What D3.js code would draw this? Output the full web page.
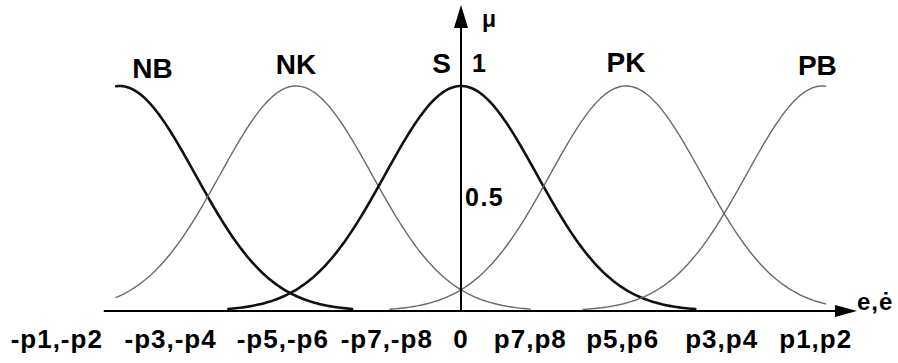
<!DOCTYPE html>
<html>
<head>
<meta charset="utf-8">
<script src="https://cdn.jsdelivr.net/npm/d3@7"></script>
<style>
  body { margin: 0; background: #fff; }
  text { font-family: "Liberation Sans", Arial, sans-serif; font-weight: bold; fill: #000; }
</style>
</head>
<body>
<div id="chart"></div>
<script>
// fuzzy sets (gaussian membership functions)
const setNames = ['NB', 'NK', 'S', 'PK', 'PB'];
const setCenters = [-2.07, -1.0, 0, 1.0, 2.19];
const setSigma = 0.46;
const setStart = [-2.09, -2.09, -1.41, -0.43, 0.74];
const setEnd = [-0.66, 0.42, 1.42, 2.21, 2.21];

// x axis tick labels
const tickLabels = ['-p1,-p2', '-p3,-p4', '-p5,-p6', '-p7,-p8', '0', 'p7,p8', 'p5,p6', 'p3,p4', 'p1,p2'];
const tickValues = [-2.45, -1.76, -1.08, -0.45, 0, 0.42, 0.98, 1.58, 2.15];

// y axis labels
const yLabels = ['1', '0.5'];
const yValues = [1, 0.5];

const width = 898, height = 363;

const svg = d3.select('#chart').append('svg')
  .attr('width', width)
  .attr('height', height);

const x = d3.scaleLinear().domain([0, 1]).range([461, 626]);
const y = d3.scaleLinear().domain([0, 1]).range([311, 86]);

const gauss = (v, c) => Math.exp(-((v - c) ** 2) / (2 * setSigma * setSigma));

// curves
const line = d3.line().x(d => x(d[0])).y(d => y(d[1]));
const bold = new Set(['NB', 'S']);

setNames.forEach((name, i) => {
  const n = 200;
  const pts = d3.range(n + 1).map(k => {
    const v = setStart[i] + (setEnd[i] - setStart[i]) * k / n;
    return [v, gauss(v, setCenters[i])];
  });
  svg.append('path')
    .attr('d', line(pts))
    .attr('fill', 'none')
    .attr('stroke', bold.has(name) ? '#111' : '#6a6a6a')
    .attr('stroke-width', bold.has(name) ? 2.6 : 1.4)
    .attr('stroke-linecap', 'round');
});

// axes
const xMin = -2.165, xMax = 2.4, yMax = 1.36;
svg.append('line')
  .attr('x1', x(xMin)).attr('y1', y(0))
  .attr('x2', x(xMax) - 10).attr('y2', y(0))
  .attr('stroke', '#000').attr('stroke-width', 2);
svg.append('path')
  .attr('d', `M${x(xMax)},${y(0)} L${x(xMax) - 22},${y(0) - 6} L${x(xMax) - 22},${y(0) + 6} Z`)
  .attr('fill', '#000');

svg.append('line')
  .attr('x1', x(0)).attr('y1', y(0))
  .attr('x2', x(0)).attr('y2', y(yMax) + 10)
  .attr('stroke', '#000').attr('stroke-width', 2);
svg.append('path')
  .attr('d', `M${x(0)},${y(yMax)} L${x(0) - 7},${y(yMax) + 23} L${x(0) + 7},${y(yMax) + 23} Z`)
  .attr('fill', '#000');

// axis titles
svg.append('text')
  .attr('x', x(0) + 21).attr('y', 27)
  .attr('font-size', 23)
  .text('μ');
svg.append('text')
  .attr('x', x(xMax)).attr('y', y(0) - 1)
  .attr('font-size', 24)
  .attr('letter-spacing', 1)
  .text('e,ė');

// tick labels on x
svg.append('g')
  .selectAll('text')
  .data(tickLabels)
  .enter().append('text')
  .attr('x', (d, i) => x(tickValues[i]))
  .attr('y', 348)
  .attr('text-anchor', 'middle')
  .attr('font-size', 26)
  .attr('letter-spacing', 1)
  .text(d => d);

// y labels
svg.append('g')
  .selectAll('text')
  .data(yLabels)
  .enter().append('text')
  .attr('x', x(0))
  .attr('dx', (d, i) => i === 0 ? 11 : 4)
  .attr('y', (d, i) => y(yValues[i]) + (i === 0 ? -14 : 7))
  .attr('font-size', 25)
  .attr('letter-spacing', 1.5)
  .text(d => d);

// set names
const labelX = [-1.87, -1.0, -0.118, 1.0, 2.16];
const labelDy = [-8, -12, -13, -14, -11];
svg.append('g')
  .selectAll('text')
  .data(setNames)
  .enter().append('text')
  .attr('x', (d, i) => x(labelX[i]))
  .attr('y', (d, i) => y(1) + labelDy[i])
  .attr('text-anchor', 'middle')
  .attr('font-size', 28)
  .text(d => d);
</script>
</body>
</html>
